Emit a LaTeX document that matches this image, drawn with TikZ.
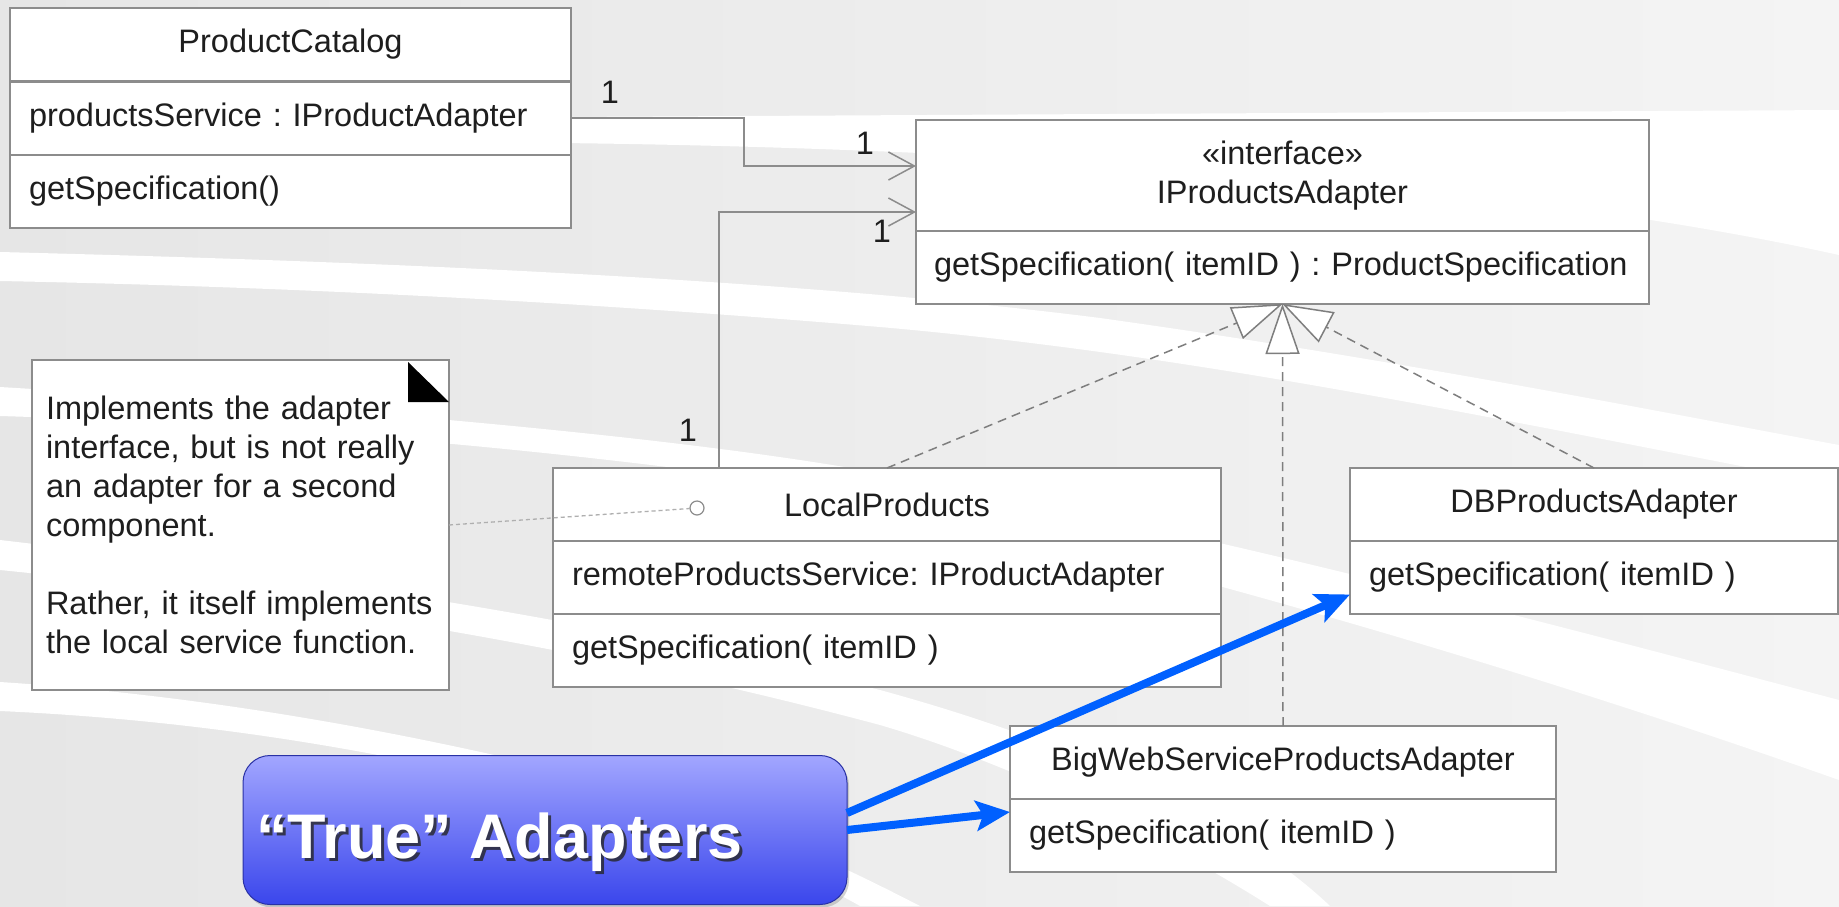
\documentclass[tikz,border=0pt]{standalone}
\usepackage{fontspec}
\setmainfont{Liberation Sans}
\frenchspacing
\usetikzlibrary{arrows.meta,shadows}
\definecolor{umlgray}{HTML}{8C8C8C}
\definecolor{umltext}{HTML}{1E1E1E}
\definecolor{bggray}{HTML}{E6E6E6}
\definecolor{bglight}{HTML}{F4F4F4}
\definecolor{slideblue}{HTML}{0060FF}
\definecolor{btntop}{HTML}{A2A6FF}
\definecolor{btnbot}{HTML}{3A46EC}
\begin{document}
\begin{tikzpicture}[x=1pt,y=-1pt,
    every node/.style={inner sep=0pt,outer sep=0pt,text=umltext,font=\fontsize{32.5}{39}\selectfont},
    cell/.style={draw=umlgray,line width=2pt,fill=white,minimum height=73pt},
    title/.style={cell,minimum width=#1,align=center},
    member/.style={cell,align=left,inner xsep=19pt,text width=#1},
    notebox/.style={draw=umlgray,line width=2pt,fill=white,align=left},
    assoc/.style={draw=umlgray,line width=1.5pt,-{Straight Barb[length=26pt,width=28pt]}},
    realize/.style={draw=umlgray!90!black,line width=1.5pt,dash pattern=on 9pt off 6pt,-{Triangle[length=50pt,width=34pt,fill=white]}},
    notelink/.style={draw=umlgray!70,line width=1.3pt,dash pattern=on 4pt off 3pt},
    btn/.style={rounded corners=27pt,top color=btntop,bottom color=btnbot,draw=btnbot!70!black,line width=1pt,
      drop shadow={opacity=0.35,shadow xshift=2pt,shadow yshift=-3pt}},
    bigtext/.style={font=\bfseries\fontsize{63}{63}\selectfont,anchor=base west},
    bluearrow/.style={draw=slideblue,line width=8pt,-{Stealth[length=34pt,width=30pt,inset=7pt]}}]
    \useasboundingbox (0,0) rectangle (1839,906);
    \shade[left color=bggray,right color=bglight] (0,0) rectangle (1839,906);
    \begin{scope}
    \clip (0,0) rectangle (1839,906);
    \fill[white] (560,117) -- (1839,110) -- (1839,255) .. controls (1500,180) and (1000,148) .. (560,143) -- cycle;
    \fill[white] (0,252) .. controls (400,262) and (800,280) .. (1100,318) .. controls (1400,360) and (1650,410) .. (1839,445)
      -- (1839,485) .. controls (1500,420) and (1200,355) .. (880,327) .. controls (500,295) and (200,285) .. (0,281) -- cycle;
    \fill[white] (0,387) .. controls (300,405) and (600,430) .. (800,460) .. controls (1100,505) and (1500,610) .. (1839,700)
      -- (1839,780) .. controls (1500,660) and (1100,545) .. (800,485) .. controls (600,455) and (300,425) .. (0,416) -- cycle;
    \fill[white] (0,540) .. controls (300,575) and (600,620) .. (880,690) .. controls (1100,750) and (1250,830) .. (1330,906)
      -- (1270,906) .. controls (1150,830) and (1000,760) .. (880,725) .. controls (600,650) and (300,600) .. (0,570) -- cycle;
    \fill[white] (0,682) .. controls (200,695) and (400,730) .. (600,780) .. controls (750,820) and (850,870) .. (920,906)
      -- (860,906) .. controls (780,860) and (650,815) .. (560,795) .. controls (380,750) and (200,720) .. (0,711) -- cycle;
    \end{scope}

    \node[title=561pt] (pctitle) at (290.5,44.5) {ProductCatalog};
    \node[member=523pt] (pcattr) at (290.5,118) {productsService : IProductAdapter};
    \node[member=523pt] (pcops) at (290.5,191.5) {getSpecification()};

    \node[cell,minimum width=733pt,minimum height=111pt,align=center] (ifhead) at (1282.5,175.5) {«interface»\\IProductsAdapter};
    \node[cell,align=left,inner xsep=18pt,text width=697pt] (ifops) at (1282.5,267.5) {getSpecification( itemID ) : ProductSpecification};

    \node[title=668pt] (lptitle) at (887,504.5) {LocalProducts};
    \node[member=630pt] (lpattr) at (887,577.5) {remoteProductsService: IProductAdapter};
    \node[member=630pt] (lpops) at (887,650.5) {getSpecification( itemID )};
    \node[circle,draw=umlgray,line width=1.2pt,fill=white,minimum size=14pt] (lpdot) at (697,508) {};

    \node[title=488pt] (dbtitle) at (1594,504.5) {DBProductsAdapter};
    \node[member=450pt] (dbops) at (1594,577.5) {getSpecification( itemID )};

    \node[title=546pt] (bwtitle) at (1283,762.5) {BigWebServiceProductsAdapter};
    \node[member=508pt] (bwops) at (1283,835.5) {getSpecification( itemID )};

    \node[notebox,minimum width=417pt,minimum height=330pt,inner xsep=14pt,text width=389pt] (note) at (240.5,525)
      {Implements the adapter\\interface, but is not really\\an adapter for a second\\component.\\[39pt]Rather, it itself implements\\the local service function.};
    \fill[black] (note.north east) ++(-41,2) -- ++(0,40) -- ++(41,0) -- cycle;
    \draw[notelink] (note.east) -- (lpdot);

    \draw[assoc] (pcattr.east) -- ++(173,0) |- ([yshift=9.5pt]ifhead.west);
    \draw[assoc] ([xshift=-168pt]lptitle.north) |- ([yshift=-36.5pt]ifhead.west);
    \node (m1) at (610,92) {1};
    \node (m2) at (865,143) {1};
    \node (m3) at (882,231) {1};
    \node (m4) at (688,430) {1};

    \draw[realize] (lptitle.north) -- (ifops.south);
    \draw[realize] (dbtitle.north) -- (ifops.south);
    \draw[realize] (bwtitle.north) -- (ifops.south);

    \node[btn,minimum width=604pt,minimum height=149pt] (ta) at (545,830) {};
    \node[bigtext,text=black!85,opacity=0.8] (tashadow) at (259,861) {“True” Adapters};
    \node[bigtext,text=white] (talabel) at (256,858) {“True” Adapters};
    \draw[bluearrow] ([yshift=17pt]ta.east) -- ([yshift=-17pt]dbops.west);
    \draw[bluearrow] (ta.east) -- ([yshift=23.5pt]bwops.west);
\end{tikzpicture}
\end{document}
